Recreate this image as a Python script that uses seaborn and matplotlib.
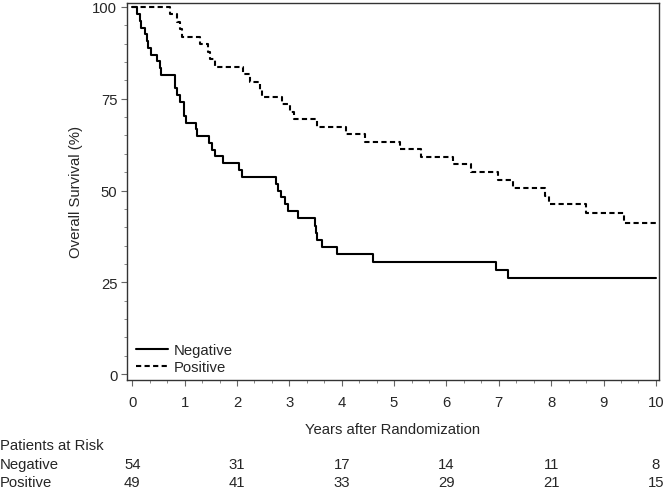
import matplotlib
matplotlib.use("Agg")
import matplotlib.pyplot as plt
from matplotlib.ticker import MultipleLocator
import seaborn as sns
import pandas as pd

# --- data (years, survival %) ---
neg_time = [0, 0.09, 0.15, 0.17, 0.25, 0.28, 0.31, 0.36, 0.47, 0.53, 0.54,
            0.81, 0.82, 0.85, 0.92, 0.98, 0.99, 1.03, 1.22, 1.23, 1.46, 1.53,
            1.58, 1.74, 2.03, 2.10, 2.75, 2.79, 2.84, 2.92, 2.98, 3.17, 3.49,
            3.50, 3.52, 3.62, 3.91, 4.60, 6.94, 7.18, 10.0]
neg_surv = [100, 98.1, 96.3, 94.4, 92.6, 90.7, 88.9, 87.0, 85.2, 83.3, 81.5,
            79.6, 77.8, 75.9, 74.1, 72.2, 70.4, 68.5, 66.7, 64.8, 63.0, 61.1,
            59.3, 57.4, 55.6, 53.7, 51.9, 50.0, 48.1, 46.3, 44.4, 42.6, 40.3,
            38.4, 36.4, 34.5, 32.6, 30.5, 28.4, 26.2, 26.2]

pos_time = [0, 0.72, 0.85, 0.92, 0.95, 1.30, 1.44, 1.49, 1.58, 2.11, 2.25,
            2.44, 2.47, 2.86, 3.02, 3.08, 3.52, 4.08, 4.45, 5.11, 5.51, 6.13,
            6.46, 6.98, 7.28, 7.88, 7.95, 8.66, 9.39, 10.0]
pos_surv = [100, 98.0, 95.9, 93.9, 91.8, 89.8, 87.8, 85.7, 83.7, 81.6, 79.6,
            77.5, 75.5, 73.5, 71.4, 69.4, 67.3, 65.3, 63.2, 61.2, 59.1, 57.1,
            55.0, 52.9, 50.8, 48.5, 46.2, 43.9, 41.2, 41.2]

risk_years = [0, 2, 4, 6, 8, 10]
risk_neg = [54, 31, 17, 14, 11, 8]
risk_pos = [49, 41, 33, 29, 21, 15]

df = pd.concat([
    pd.DataFrame({"Years": neg_time, "Survival": neg_surv, "Group": "Negative"}),
    pd.DataFrame({"Years": pos_time, "Survival": pos_surv, "Group": "Positive"}),
])

sns.set_style("ticks")
plt.rcParams["font.family"] = ["Liberation Sans", "DejaVu Sans"]
FS = 10.7

fig = plt.figure(figsize=(6.72, 4.89), dpi=100)
ax = fig.add_axes([0.189, 0.221, 0.791, 0.771])

sns.lineplot(data=df, x="Years", y="Survival", hue="Group", style="Group",
             palette={"Negative": "black", "Positive": "black"},
             dashes={"Negative": "", "Positive": (2.5, 1.6)},
             estimator=None, drawstyle="steps-post", linewidth=1.5, ax=ax)

ax.set_xlim(-0.1, 10.05)
ax.set_ylim(-1.6, 101.1)
ax.set_xticks(range(0, 11))
ax.set_yticks([0, 25, 50, 75, 100])
ax.xaxis.set_minor_locator(MultipleLocator(1 / 3))
ax.yaxis.set_minor_locator(MultipleLocator(5))
ax.tick_params(axis="both", which="major", labelsize=FS, color="#666666",
               length=4, width=0.8)
ax.tick_params(axis="both", which="minor", color="#888888", length=2.5, width=0.7)
ax.tick_params(axis="x", which="major", pad=7)
ax.tick_params(axis="y", which="major", pad=3)
for s in ax.spines.values():
    s.set_visible(True)
    s.set_color("#333333")
    s.set_linewidth(1.0)

ax.set_xlabel("Years after Randomization", fontsize=FS, labelpad=9)
ax.set_ylabel("Overall Survival (%)", fontsize=FS, labelpad=7)

leg = ax.legend(loc="lower left", frameon=False, fontsize=FS, handlelength=2.2,
                handletextpad=0.35, labelspacing=0.2, borderaxespad=0.0,
                bbox_to_anchor=(0.005, 0.0))

# --- patients at risk table ---
fig.text(0.0, 1 - 446 / 489, "Patients at Risk", fontsize=FS, va="center", ha="left")
fig.text(0.0, 1 - 465 / 489, "Negative", fontsize=FS, va="center", ha="left")
fig.text(0.0, 1 - 483 / 489, "Positive", fontsize=FS, va="center", ha="left")
trans = ax.get_xaxis_transform()
for yr, n_neg, n_pos in zip(risk_years, risk_neg, risk_pos):
    x_fig = fig.transFigure.inverted().transform(trans.transform((yr, 0)))[0]
    fig.text(x_fig, 1 - 465 / 489, str(n_neg), fontsize=FS, va="center", ha="center")
    fig.text(x_fig, 1 - 483 / 489, str(n_pos), fontsize=FS, va="center", ha="center")

fig.savefig("out.png", dpi=100)
